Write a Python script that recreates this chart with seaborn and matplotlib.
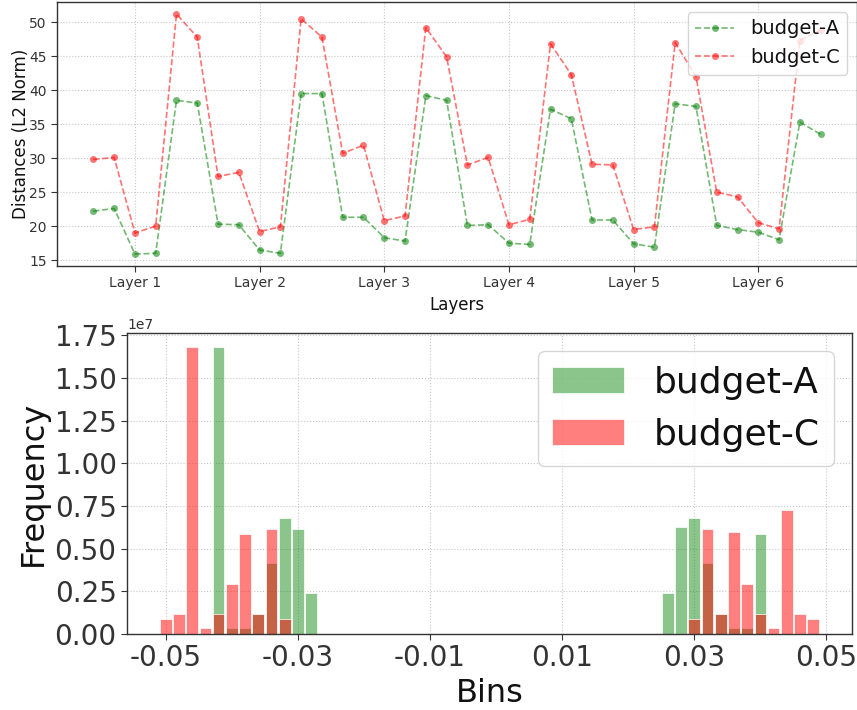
import numpy as np
import pandas as pd
import matplotlib.pyplot as plt
from matplotlib.ticker import MultipleLocator
import seaborn as sns

# distances per layer step (6 points per layer, 6 layers)
layers = ['Layer 1', 'Layer 2', 'Layer 3', 'Layer 4', 'Layer 5', 'Layer 6']
dist_a = [22.2, 22.6, 15.9, 16.0, 38.5, 38.1,
          20.3, 20.2, 16.5, 16.0, 39.5, 39.5,
          21.3, 21.3, 18.3, 17.8, 39.2, 38.5,
          20.1, 20.2, 17.5, 17.3, 37.2, 35.8,
          20.9, 20.9, 17.4, 16.9, 38.0, 37.6,
          20.1, 19.5, 19.1, 18.0, 35.3, 33.5]
dist_c = [29.8, 30.1, 19.0, 20.0, 51.2, 47.8,
          27.3, 27.9, 19.2, 19.9, 50.5, 47.8,
          30.7, 31.9, 20.8, 21.5, 49.2, 44.9,
          29.0, 30.1, 20.2, 21.0, 46.8, 42.3,
          29.1, 29.0, 19.5, 19.9, 47.0, 42.0,
          25.0, 24.3, 20.5, 19.6, 47.3, 48.9]

# histogram of values (bin centres, counts)
bins_a = [-0.042, -0.040, -0.038, -0.036, -0.034, -0.032, -0.030, -0.028,
          0.026, 0.028, 0.030, 0.032, 0.034, 0.036, 0.038, 0.040]
freq_a = [1.68e7, 0.033e7, 0.033e7, 0.12e7, 0.414e7, 0.682e7, 0.618e7, 0.239e7,
          0.239e7, 0.627e7, 0.682e7, 0.414e7, 0.12e7, 0.033e7, 0.033e7, 0.585e7]
bins_c = [-0.050, -0.048, -0.046, -0.044, -0.042, -0.040, -0.038, -0.036, -0.034, -0.032,
          0.030, 0.032, 0.034, 0.036, 0.038, 0.040, 0.042, 0.044, 0.046, 0.048]
freq_c = [0.087e7, 0.12e7, 1.68e7, 0.033e7, 0.12e7, 0.293e7, 0.585e7, 0.12e7, 0.618e7, 0.087e7,
          0.087e7, 0.618e7, 0.12e7, 0.598e7, 0.293e7, 0.12e7, 0.033e7, 0.725e7, 0.12e7, 0.087e7]

sns.set_style("whitegrid", {
    'grid.linestyle': ':',
    'grid.color': '#c8c8c8',
    'axes.edgecolor': '#333333',
    'xtick.bottom': True,
    'ytick.left': True,
    'xtick.color': '#333333',
    'ytick.color': '#333333',
    'text.color': '#111111',
    'axes.labelcolor': '#111111',
})
plt.rcParams['font.family'] = ['DejaVu Sans']
plt.rcParams['axes.unicode_minus'] = False
plt.rcParams['xtick.major.size'] = 4
plt.rcParams['ytick.major.size'] = 4

fig = plt.figure(figsize=(8.57, 7.10), dpi=100)
ax1 = fig.add_axes([57/857, 1-266/710, 800/857, 264/710])
ax2 = fig.add_axes([127/857, 1-634/710, 725/857, 301/710])

df = pd.DataFrame({'step': np.arange(len(dist_a)), 'A': dist_a, 'C': dist_c})
sns.lineplot(data=df, x='step', y='A', ax=ax1, color='green', alpha=0.55, marker='o',
             markersize=5, markeredgewidth=0, linestyle='--', lw=1.2, label='budget-A')
sns.lineplot(data=df, x='step', y='C', ax=ax1, color='red', alpha=0.55, marker='o',
             markersize=5, markeredgewidth=0, linestyle='--', lw=1.2, label='budget-C')
ax1.set_xticks(np.arange(len(layers)) * 6 + 2)
ax1.set_xticklabels(layers)
ax1.tick_params(labelsize=10)
ax1.set_xlabel('Layers', fontsize=12)
ax1.set_ylabel('Distances (L2 Norm)', fontsize=12, labelpad=-1)
ax1.legend(loc='upper right', fontsize=14)
for s in ax1.spines.values():
    s.set_linewidth(1)

sns.histplot(x=bins_a, weights=freq_a, bins=50, binrange=(-0.051, 0.049), ax=ax2,
             color='green', alpha=0.45, edgecolor='white', linewidth=0.5, shrink=0.88,
             label='budget-A')
sns.histplot(x=bins_c, weights=freq_c, bins=50, binrange=(-0.051, 0.049), ax=ax2,
             color='red', alpha=0.5, edgecolor='white', linewidth=0.5, shrink=0.88,
             label='budget-C')
ax2.set_xticks([-0.05, -0.03, -0.01, 0.01, 0.03, 0.05])
ax2.yaxis.set_major_locator(MultipleLocator(0.25e7))
ax2.tick_params(labelsize=20)
ax2.set_xlabel('Bins', fontsize=23)
ax2.set_ylabel('Frequency', fontsize=23)
ax2.legend(loc='upper right', fontsize=26)
for s in ax2.spines.values():
    s.set_linewidth(1)

fig.savefig('out.png', dpi=100)
